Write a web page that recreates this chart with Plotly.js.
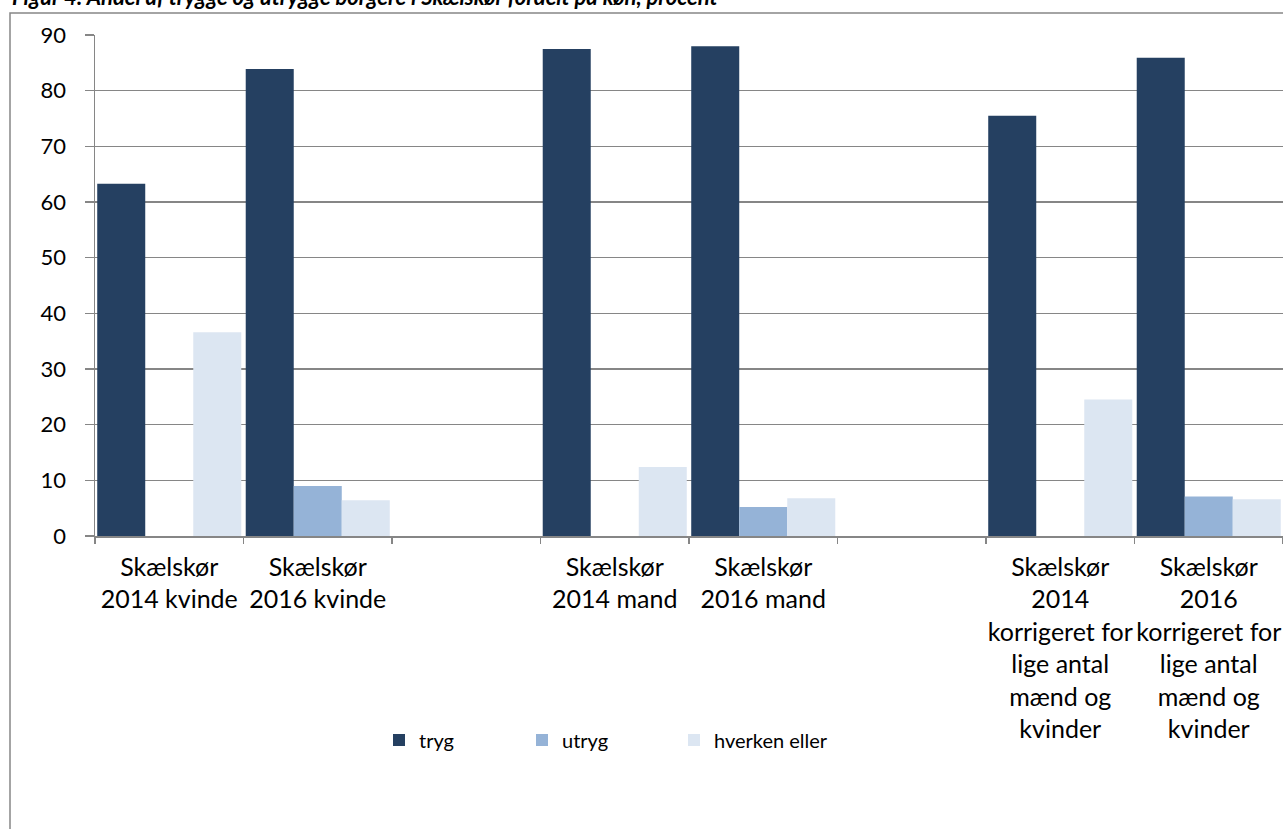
<!DOCTYPE html>
<html>
<head>
<meta charset="utf-8">
<script src="https://cdn.plot.ly/plotly-3.0.1.min.js"></script>
<style>html,body{margin:0;padding:0;background:#fff;}#chart{width:1283px;height:829px;}</style>
</head>
<body>
<div id="chart"></div>
<script>
// Category keys and their (wrapped) labels; blank slots are empty groups
const categoryKeys = ["k2014", "k2016", "blank1", "m2014", "m2016", "blank2", "c2014", "c2016"];
const categoryLabels = [
  "Skælskør<br>2014 kvinde",
  "Skælskør<br>2016 kvinde",
  "",
  "Skælskør<br>2014 mand",
  "Skælskør<br>2016 mand",
  "",
  "Skælskør<br>2014<br>korrigeret for<br>lige antal<br>mænd og<br>kvinder",
  "Skælskør<br>2016<br>korrigeret for<br>lige antal<br>mænd og<br>kvinder"
];
const seriesNames = ["tryg", "utryg", "hverken eller"];
const tryg = [63.3, 83.9, null, 87.5, 88.0, null, 75.5, 85.9];
const utryg = [0, 9.0, null, 0, 5.2, null, 0, 7.1];
const hverken = [36.6, 6.4, null, 12.4, 6.8, null, 24.5, 6.6];
const yTicks = [0, 10, 20, 30, 40, 50, 60, 70, 80, 90];
const titleText = "Figur 4: Andel af trygge og utrygge borgere i Skælskør fordelt på køn, procent";

const colors = ["#254061", "#95B3D7", "#DCE6F2"];
const FONT = "Lato, 'Open Sans', sans-serif";
const valuesList = [tryg, utryg, hverken];
const legendIds = ["legend", "legend2", "legend3"];

const traces = seriesNames.map((name, i) => ({
  type: "bar",
  name: name,
  x: categoryKeys,
  y: valuesList[i],
  marker: {color: colors[i]},
  legend: legendIds[i],
  hoverinfo: "none"
}));

const legendStyle = (xpx) => ({
  xref: "container", yref: "container",
  x: xpx / 1283, y: (829 - 740) / 829,
  xanchor: "left", yanchor: "middle",
  orientation: "h",
  bgcolor: "rgba(0,0,0,0)",
  font: {family: FONT, size: 20, color: "#000"},
  borderwidth: 0
});

const layout = {
  width: 1283, height: 829,
  margin: {l: 95, r: 0, t: 35, b: 293, pad: 0},
  paper_bgcolor: "#fff", plot_bgcolor: "#fff",
  font: {family: FONT, size: 21, color: "#000"},
  barmode: "group",
  bargap: 0.03,
  bargroupgap: 0,
  showlegend: true,
  legend: legendStyle(379),
  legend2: legendStyle(522),
  legend3: legendStyle(674),
  xaxis: {
    type: "category",
    categoryorder: "array",
    categoryarray: categoryKeys,
    tickmode: "array",
    tickvals: categoryKeys,
    ticktext: categoryLabels,
    tickson: "boundaries",
    ticks: "outside",
    ticklen: 6,
    tickcolor: "#868686",
    tickwidth: 1.3,
    showline: true,
    linecolor: "#868686",
    linewidth: 1.5,
    showgrid: false,
    zeroline: false,
    tickangle: 0,
    ticklabelstandoff: 8,
    tickfont: {family: FONT, size: 25, color: "#000"},
    fixedrange: true
  },
  yaxis: {
    range: [0, 90],
    tickmode: "array",
    tickvals: yTicks,
    ticktext: yTicks.map(String),
    ticks: "outside",
    ticklen: 9,
    tickcolor: "#868686",
    tickwidth: 1.3,
    showline: true,
    linecolor: "#868686",
    linewidth: 1.5,
    showgrid: true,
    gridcolor: "#868686",
    gridwidth: 1.3,
    zeroline: false,
    ticklabelstandoff: 14,
    tickfont: {family: FONT, size: 22, color: "#000"},
    fixedrange: true
  },
  shapes: [{
    type: "rect", xref: "paper", yref: "paper",
    x0: (10 - 95) / 1188, x1: 1.2,
    y0: -1, y1: (536 - 13) / 501,
    line: {color: "#868686", width: 1.5},
    fillcolor: "rgba(0,0,0,0)",
    layer: "below"
  }],
  annotations: [{
    xref: "paper", yref: "paper",
    x: (10 - 95) / 1188, y: (536 + 19) / 501,
    xanchor: "left", yanchor: "top",
    showarrow: false,
    text: "<b><i>" + titleText + "</i></b>",
    font: {family: FONT, size: 22, color: "#000"}
  }]
};

Plotly.newPlot("chart", traces, layout, {displayModeBar: false, staticPlot: true});
</script>
</body>
</html>
